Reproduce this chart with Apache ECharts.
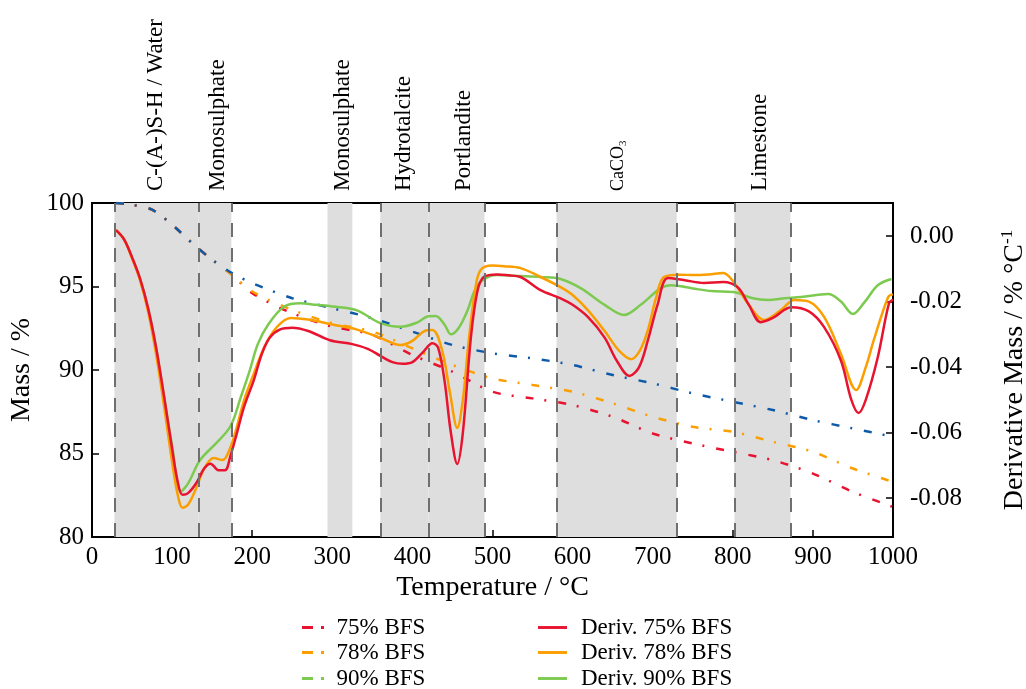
<!DOCTYPE html>
<html>
<head>
<meta charset="utf-8">
<script src="https://cdn.jsdelivr.net/npm/echarts@6/dist/echarts.min.js"></script>
<style>
html,body{margin:0;padding:0;background:#fff;}
#chart{width:1026px;height:689px;}
</style>
</head>
<body>
<div id="chart"></div>
<script>
// ---- data ----
const massT = [30,50,75,100,125,150,175,200,250,300,350,400,450,500,550,600,650,700,750,800,850,900,950,1000];
const mass75 = [100.0,99.9,99.6,98.7,97.6,96.6,95.7,94.6,93.4,92.6,92.1,90.9,89.9,88.7,88.3,87.9,87.2,86.2,85.6,85.1,84.6,83.8,82.7,81.8];
const mass78 = [100.0,99.9,99.6,98.7,97.6,96.6,95.7,94.7,93.6,92.8,92.3,91.3,90.3,89.5,89.1,88.7,88.0,87.2,86.6,86.3,85.7,85.1,84.1,83.3];
const mass90 = [100.0,99.9,99.6,98.7,97.6,96.6,95.8,95.2,94.3,93.7,93.1,92.3,91.5,91.0,90.7,90.3,89.7,89.2,88.6,88.1,87.6,87.0,86.5,86.0];

const deriv75 = [[30,0.0018],[40,-0.001],[50,-0.0065],[60,-0.013],[70,-0.022],[80,-0.034],[90,-0.049],[100,-0.065],[107,-0.075],[113,-0.079],[120,-0.0785],[130,-0.0755],[140,-0.071],[148,-0.0695],[158,-0.0715],[166,-0.0715],[173,-0.067],[180,-0.061],[190,-0.052],[202,-0.044],[212,-0.036],[222,-0.031],[235,-0.0285],[250,-0.028],[270,-0.029],[297,-0.0318],[325,-0.033],[345,-0.0345],[360,-0.0366],[375,-0.0385],[388,-0.039],[400,-0.0385],[413,-0.0355],[425,-0.0327],[432,-0.034],[440,-0.044],[448,-0.06],[456,-0.0696],[463,-0.06],[473,-0.031],[481,-0.017],[489,-0.0125],[506,-0.0117],[520,-0.012],[535,-0.0125],[560,-0.0165],[585,-0.019],[600,-0.021],[619,-0.0247],[640,-0.031],[655,-0.038],[671,-0.0427],[683,-0.04],[694,-0.0318],[706,-0.021],[719,-0.0128],[740,-0.0135],[764,-0.0143],[788,-0.014],[806,-0.0156],[820,-0.021],[835,-0.0263],[850,-0.025],[873,-0.0217],[895,-0.023],[914,-0.0278],[935,-0.038],[948,-0.05],[957,-0.054],[966,-0.05],[981,-0.037],[995,-0.0205],[1000,-0.0195]];
const deriv78 = [[30,0.0018],[40,-0.001],[50,-0.0068],[60,-0.0135],[70,-0.023],[80,-0.036],[90,-0.052],[100,-0.069],[107,-0.079],[113,-0.083],[120,-0.082],[130,-0.077],[140,-0.071],[152,-0.0678],[163,-0.0684],[173,-0.0644],[180,-0.059],[190,-0.05],[202,-0.042],[215,-0.034],[230,-0.028],[248,-0.025],[270,-0.0255],[300,-0.027],[330,-0.0285],[360,-0.0311],[385,-0.0333],[400,-0.032],[415,-0.029],[425,-0.0287],[437,-0.0348],[447,-0.048],[456,-0.0586],[463,-0.05],[470,-0.0327],[478,-0.017],[485,-0.0104],[500,-0.009],[514,-0.0092],[535,-0.0098],[560,-0.0125],[585,-0.0156],[600,-0.018],[619,-0.0226],[640,-0.029],[658,-0.035],[673,-0.0376],[684,-0.035],[694,-0.0287],[704,-0.019],[714,-0.0125],[733,-0.0118],[752,-0.0119],[770,-0.0117],[788,-0.0113],[801,-0.014],[820,-0.021],[839,-0.0256],[860,-0.0226],[877,-0.0195],[895,-0.02],[914,-0.0247],[935,-0.036],[954,-0.047],[966,-0.04],[976,-0.0318],[994,-0.0186],[1000,-0.0178]];
const deriv90 = [[30,0.0018],[40,-0.001],[50,-0.0065],[60,-0.013],[70,-0.022],[80,-0.034],[90,-0.049],[100,-0.064],[111,-0.078],[120,-0.0755],[135,-0.0684],[156,-0.063],[173,-0.058],[186,-0.049],[197,-0.041],[207,-0.033],[220,-0.027],[240,-0.0215],[260,-0.0205],[280,-0.021],[300,-0.0215],[330,-0.0226],[360,-0.0266],[385,-0.0277],[405,-0.0265],[420,-0.0245],[429,-0.0244],[440,-0.027],[448,-0.03],[458,-0.028],[469,-0.0226],[477,-0.017],[485,-0.014],[497,-0.0122],[506,-0.0119],[535,-0.0122],[560,-0.0125],[585,-0.0131],[610,-0.0159],[640,-0.021],[664,-0.0241],[685,-0.021],[710,-0.0159],[723,-0.015],[750,-0.016],[773,-0.0168],[801,-0.0171],[825,-0.019],[844,-0.0195],[865,-0.019],[885,-0.0186],[919,-0.0177],[935,-0.02],[950,-0.0238],[965,-0.02],[981,-0.015],[998,-0.0131]];

const bands = [[28,133],[133,174],[294,325],[360,420],[420,490],[580,730],[802,872]];
const bandEdges = [28,133,174,360,420,490,580,730,802,872];
const phaseLabelT = [80,157,313,389,464,657,834];
const phaseLabels = ['C-(A-)S-H / Water','Monosulphate','Monosulphate','Hydrotalcite','Portlandite','{n|CaCO}{sub|3}','Limestone'];

const derivTicks = [0,-0.02,-0.04,-0.06,-0.08];

const massNames = ['75% BFS','78% BFS','90% BFS'];
const derivNames = ['Deriv. 75% BFS','Deriv. 78% BFS','Deriv. 90% BFS'];

// ---- style ----
const FONT = 'Liberation Serif';
const RED = '#e8132f', ORANGE = '#fb9e00', GREEN = '#7dca50', BLUE = '#0f5aa8';
const LEGEND_COLORS = [RED, ORANGE, GREEN];
const DASHDOT = [8,11,2,12];
const ICON_DASHDOT = 'path://M0,0 h11 v3 h-11 Z M19,0 h3 v3 h-3 Z';
const ICON_SOLID = 'path://M0,0 h30 v3 h-30 Z';

function pairs(xs, ys){ return xs.map((x,i)=>[x, ys[i]]); }

const chart = echarts.init(document.getElementById('chart'), null, {renderer:'canvas'});

const massSeries = (name, data, color) => ({
  name, type:'line', xAxisIndex:0, yAxisIndex:0, data: pairs(massT, data),
  symbol:'none', smooth:0.3, z:3,
  lineStyle:{color, width:2.5, type:DASHDOT, cap:'butt'},
  itemStyle:{color}
});
const derivSeries = (name, data, color) => ({
  name, type:'line', xAxisIndex:0, yAxisIndex:1, data,
  symbol:'none', smooth:0.35, z:4,
  lineStyle:{color, width:2.5},
  itemStyle:{color}
});

const rowTops = [616, 641, 667];
const legends = [];
massNames.forEach((n,i)=>legends.push({
  data:[{name:n, icon:ICON_DASHDOT, itemStyle:{color:LEGEND_COLORS[i]}}],
  left:302, top:rowTops[i], itemWidth:23, itemHeight:3, padding:0, selectedMode:false,
  textStyle:{fontFamily:FONT, fontSize:23, color:'#000', padding:[0,0,0,7]}
}));
derivNames.forEach((n,i)=>legends.push({
  data:[{name:n, icon:ICON_SOLID, itemStyle:{color:LEGEND_COLORS[i]}}],
  left:538, top:rowTops[i], itemWidth:29, itemHeight:3, padding:0, selectedMode:false,
  textStyle:{fontFamily:FONT, fontSize:23, color:'#000', padding:[0,0,0,9]}
}));

const option = {
  backgroundColor:'#fff',
  animation:false,
  textStyle:{fontFamily:FONT, color:'#000'},
  grid:{left:92, right:133, top:203, bottom:152, show:true, borderColor:'#000', borderWidth:2,
        backgroundColor:'transparent', containLabel:false, outerBoundsMode:'none'},
  legend:legends,
  xAxis:[
    {
      type:'value', min:0, max:1000, interval:100, position:'bottom',
      name:'Temperature / °C', nameLocation:'middle', nameGap:37,
      nameTextStyle:{fontFamily:FONT, fontSize:28, color:'#000'},
      axisLine:{show:true, onZero:false, lineStyle:{color:'#000', width:2}},
      axisTick:{show:true, inside:true, length:7, lineStyle:{color:'#000', width:1.5}},
      axisLabel:{fontFamily:FONT, fontSize:25, color:'#000', margin:8, formatter: v => String(v)},
      splitLine:{show:false}
    },
    {
      type:'value', min:0, max:1000, position:'top',
      axisLine:{show:false}, axisTick:{show:false}, splitLine:{show:false},
      axisLabel:{
        show:true, rotate:90, margin:12, fontFamily:FONT, fontSize:23, color:'#000',
        customValues: phaseLabelT,
        formatter: v => { const i = phaseLabelT.indexOf(v); return i>=0 ? phaseLabels[i] : ''; },
        rich:{
          n:{fontFamily:FONT, fontSize:18, color:'#000'},
          sub:{fontFamily:FONT, fontSize:11, color:'#000', padding:[10,0,0,0]}
        }
      }
    }
  ],
  yAxis:[
    {
      type:'value', min:80, max:100, interval:5, position:'left',
      name:'Mass / %', nameLocation:'middle', nameGap:55,
      nameTextStyle:{fontFamily:FONT, fontSize:28, color:'#000'},
      axisLine:{show:true, onZero:false, lineStyle:{color:'#000', width:2}},
      axisTick:{show:true, inside:true, length:7, lineStyle:{color:'#000', width:1.5}},
      axisLabel:{fontFamily:FONT, fontSize:25, color:'#000', margin:8},
      splitLine:{show:false}
    },
    {
      type:'value', min:-0.0919, max:0.0101, position:'right',
      name:'{a|Derivative Mass / % °C}{s|-1}', nameLocation:'middle', nameGap:106,
      nameTextStyle:{fontFamily:FONT, fontSize:28, color:'#000',
        rich:{a:{fontFamily:FONT, fontSize:28, color:'#000'}, s:{fontFamily:FONT, fontSize:17, color:'#000', padding:[0,0,14,0]}}},
      axisLine:{show:true, onZero:false, lineStyle:{color:'#000', width:2}},
      axisTick:{show:true, inside:true, length:7, customValues:derivTicks, lineStyle:{color:'#000', width:1.5}},
      axisLabel:{fontFamily:FONT, fontSize:25, color:'#000', margin:17, customValues:derivTicks,
        formatter: v => (Math.abs(v) < 1e-9 ? '0.00' : v.toFixed(2))},
      splitLine:{show:false}
    }
  ],
  series:[
    {
      name:'bands', type:'line', xAxisIndex:0, yAxisIndex:0, data:[], z:1, silent:true,
      markArea:{silent:true, itemStyle:{color:'#dedede'}, label:{show:false},
        data: bands.map(b=>[{xAxis:b[0]},{xAxis:b[1]}])},
      markLine:{silent:true, symbol:'none', label:{show:false},
        lineStyle:{color:'#6f6f6f', width:2, type:[14,11]},
        data: bandEdges.map(e=>({xAxis:e}))}
    },
    massSeries(massNames[0], mass75, RED),
    massSeries(massNames[1], mass78, ORANGE),
    massSeries(massNames[2], mass90, BLUE),
    derivSeries(derivNames[2], deriv90, GREEN),
    derivSeries(derivNames[1], deriv78, ORANGE),
    derivSeries(derivNames[0], deriv75, RED)
  ]
};
chart.setOption(option);
</script>
</body>
</html>
